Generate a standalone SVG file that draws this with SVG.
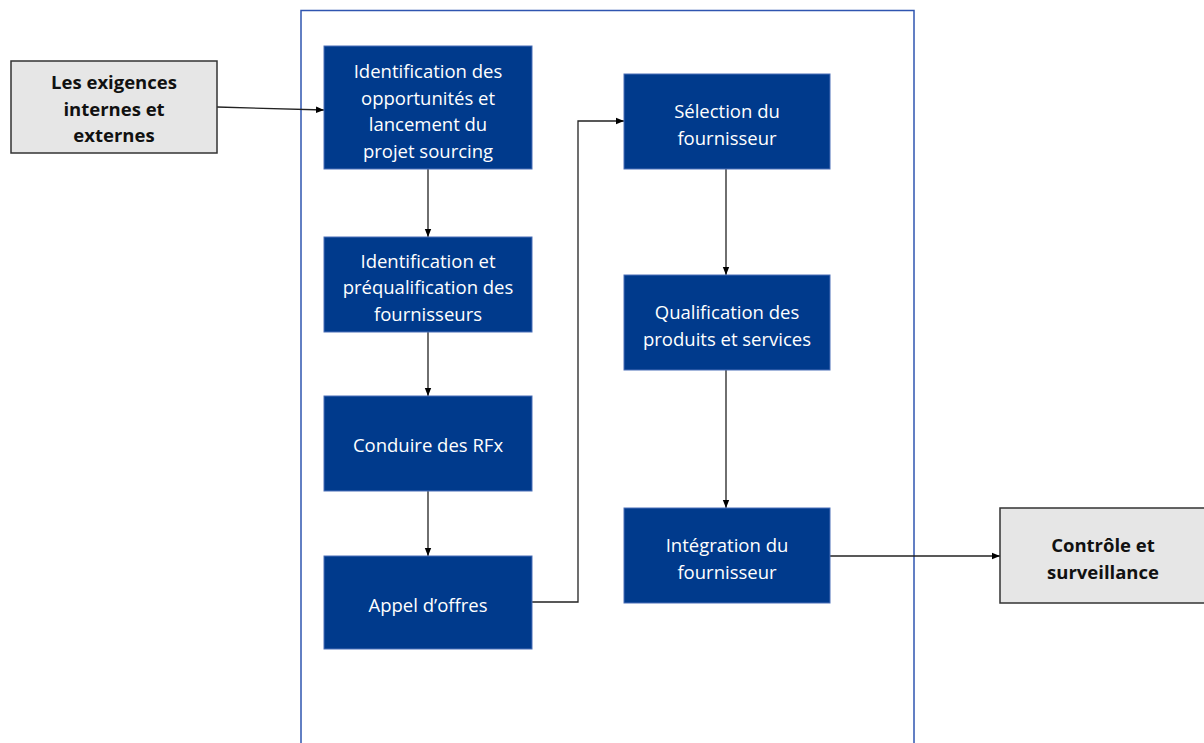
<svg xmlns="http://www.w3.org/2000/svg" width="1204" height="743" viewBox="0 0 1204 743">
<defs>
<marker id="ah" viewBox="0 0 10 10" refX="10" refY="5" markerWidth="8" markerHeight="8" markerUnits="userSpaceOnUse" orient="auto">
<path d="M0,1 L10,5 L0,9 z" fill="#000"/>
</marker>
<style>
.b{fill:#003A8C;stroke:#4a6fb8;stroke-width:1}
.g{fill:#E6E6E6;stroke:#333;stroke-width:1.5}
.t{font-family:"Open Sans","Liberation Sans",sans-serif;font-size:18.5px;fill:#fff;text-anchor:middle;dominant-baseline:central}
.k{font-family:"Open Sans","Liberation Sans",sans-serif;font-size:18.5px;font-weight:bold;fill:#111;text-anchor:middle;dominant-baseline:central}
.c{fill:none;stroke:#222;stroke-width:1.3;marker-end:url(#ah)}
</style>
</defs>
<rect width="1204" height="743" fill="#fff"/>
<rect id="frame" x="301" y="10.5" width="613" height="740" fill="none" stroke="#2F55B0" stroke-width="1.5"/>
<g id="connectors">
<path class="c" d="M217,107 L324,110"/>
<path class="c" d="M428,169 L428,237"/>
<path class="c" d="M428,332 L428,396"/>
<path class="c" d="M428,491 L428,556"/>
<path class="c" d="M532,602 L578,602 L578,121 L624,121"/>
<path class="c" d="M726,169 L726,275"/>
<path class="c" d="M726,370 L726,508"/>
<path class="c" d="M830,556 L1000,556"/>
</g>
<g id="n0"><rect class="g" x="11" y="61" width="206" height="92"/>
<text class="k" x="114" y="81">Les exigences</text><text class="k" x="114" y="108">internes et</text><text class="k" x="114" y="134">externes</text></g>
<g id="n1"><rect class="b" x="324" y="46" width="208" height="123"/>
<text class="t" x="428" y="70">Identification des</text><text class="t" x="428" y="97">opportunités et</text><text class="t" x="428" y="123">lancement du</text><text class="t" x="428" y="150">projet sourcing</text></g>
<g id="n2"><rect class="b" x="324" y="237" width="208" height="95"/>
<text class="t" x="428" y="260">Identification et</text><text class="t" x="428" y="286">préqualification des</text><text class="t" x="428" y="313">fournisseurs</text></g>
<g id="n3"><rect class="b" x="324" y="396" width="208" height="95"/>
<text class="t" x="428" y="444">Conduire des RFx</text></g>
<g id="n4"><rect class="b" x="324" y="556" width="208" height="93"/>
<text class="t" x="428" y="604">Appel d’offres</text></g>
<g id="n5"><rect class="b" x="624" y="74" width="206" height="95"/>
<text class="t" x="727" y="110">Sélection du</text><text class="t" x="727" y="137">fournisseur</text></g>
<g id="n6"><rect class="b" x="624" y="275" width="206" height="95"/>
<text class="t" x="727" y="311">Qualification des</text><text class="t" x="727" y="338">produits et services</text></g>
<g id="n7"><rect class="b" x="624" y="508" width="206" height="95"/>
<text class="t" x="727" y="544">Intégration du</text><text class="t" x="727" y="571">fournisseur</text></g>
<g id="n8"><rect class="g" x="1000" y="508" width="210" height="95"/>
<text class="k" x="1103" y="544">Contrôle et</text><text class="k" x="1103" y="571">surveillance</text></g>
</svg>
